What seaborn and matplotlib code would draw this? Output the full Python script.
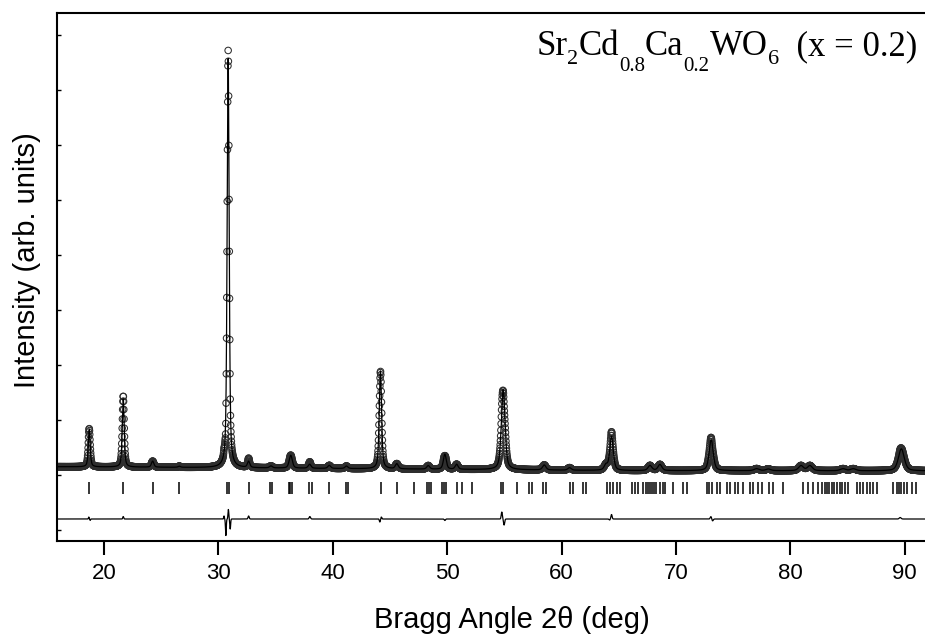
import numpy as np
import pandas as pd
import matplotlib
matplotlib.use("Agg")
import matplotlib.pyplot as plt
import seaborn as sns

# ---- scan definition (deg 2θ) ----
scan_start, scan_end, scan_step = 16.0, 92.0, 0.02

# ---- reflections: position (deg), net height (counts), FWHM (deg) ----
peak_pos = [18.72, 21.69, 24.26, 26.59, 30.86, 32.65, 34.60, 36.33, 37.98,
            39.70, 41.20, 44.17, 45.60, 48.35, 49.80, 50.83, 54.90, 58.49,
            60.70, 63.88, 64.37, 67.73, 68.60, 73.08, 77.05, 78.07, 80.93,
            81.71, 84.60, 85.50, 89.70]
peak_height = [680, 1250, 110, 20, 7440, 110, 36, 236, 73,
               55, 45, 1790, 91, 64, 273, 91, 1455, 91,
               45, 91, 618, 91, 110, 564, 36, 30, 91,
               91, 36, 36, 400]
peak_fwhm = [0.20, 0.20, 0.25, 0.25, 0.21, 0.25, 0.30, 0.32, 0.30,
             0.30, 0.30, 0.24, 0.30, 0.30, 0.30, 0.30, 0.38, 0.35,
             0.35, 0.35, 0.36, 0.40, 0.40, 0.42, 0.50, 0.50, 0.50,
             0.50, 0.55, 0.55, 0.60]
peak_eta = 0.5

# ---- background anchor points ----
bg_pos = [16.0, 25.0, 45.0, 65.0, 92.0]
bg_level = [150, 140, 110, 80, 75]

# ---- misfit features (obs - calc): position, amplitude (counts), width (deg) ----
resid_pos = [18.68, 18.80, 21.69, 30.50, 30.66, 30.88, 31.04, 32.65, 38.00,
             44.12, 44.25, 49.80, 54.78, 54.98, 64.20, 64.37, 73.06, 73.20, 89.60]
resid_amp = [36, -25, 45, 55, -300, 173, -182, 55, 45,
             -55, 36, -27, 127, -110, -18, 82, 45, -36, 27]
resid_width = [0.03, 0.03, 0.04, 0.03, 0.035, 0.035, 0.035, 0.05, 0.06,
               0.04, 0.04, 0.05, 0.05, 0.05, 0.05, 0.05, 0.06, 0.06, 0.08]

# ---- allowed Bragg reflection positions (deg) ----
bragg_pos = [18.72, 21.69, 24.26, 26.59, 30.72, 30.96, 32.65, 34.51, 34.66,
             36.22, 36.30, 36.46, 37.95, 38.15, 39.70, 41.15, 41.30, 44.21,
             45.61, 47.10, 48.21, 48.41, 48.58, 49.52, 49.69, 49.89, 50.83,
             51.32, 52.14, 54.68, 54.85, 56.07, 57.18, 57.38, 58.35, 58.64,
             60.73, 60.97, 61.90, 62.13, 63.94, 64.23, 64.52, 64.82, 65.11,
             66.13, 66.42, 66.71, 67.15, 67.40, 67.58, 67.75, 67.92, 68.10,
             68.30, 68.60, 68.84, 69.07, 69.77, 70.64, 70.93, 72.68, 72.91,
             73.12, 73.55, 73.85, 74.43, 74.72, 75.16, 75.45, 75.89, 76.47,
             76.76, 77.20, 77.49, 78.16, 78.51, 79.32, 81.07, 81.56, 82.00,
             82.44, 82.73, 83.02, 83.17, 83.40, 83.60, 83.80, 84.10, 84.30,
             84.48, 84.77, 85.06, 85.79, 86.08, 86.37, 86.66, 86.95, 87.24,
             87.54, 89.00, 89.30, 89.50, 89.70, 89.90, 90.20, 90.60, 91.00]

# ---- vertical placement of the lower panels (counts) ----
tick_low, tick_high = -350, -130
diff_offset = -800

# ---- sample label pieces: text, font size (pt), baseline drop (px) ----
label_pieces = [("Sr", 25, 0), ("2", 16, 9), ("Cd", 25, 0), ("0.8", 15, 16),
                ("Ca", 25, 0), ("0.2", 15, 16), ("WO", 25, 0), ("6", 16, 9),
                ("  (x = 0.2)", 25, 0)]

two_theta = np.arange(scan_start, scan_end + scan_step / 2, scan_step)


def pseudo_voigt(x, x0, fwhm, eta):
    hw = fwhm / 2.0
    lor = 1.0 / (1.0 + ((x - x0) / hw) ** 2)
    gau = np.exp(-np.log(2.0) * ((x - x0) / hw) ** 2)
    return eta * lor + (1.0 - eta) * gau


background = np.interp(two_theta, bg_pos, bg_level)
calc = background.copy()
for p, h, w in zip(peak_pos, peak_height, peak_fwhm):
    calc += h * pseudo_voigt(two_theta, p, w, peak_eta)

misfit = np.zeros_like(two_theta)
for p, a, w in zip(resid_pos, resid_amp, resid_width):
    misfit += a * np.exp(-0.5 * ((two_theta - p) / w) ** 2)

obs = calc + misfit
diff = obs - calc

df = pd.DataFrame({"two_theta": two_theta, "obs": obs, "calc": calc,
                   "diff": diff + diff_offset})

# ---- styling ----
sns.set_style("ticks")
plt.rcParams["font.family"] = ["Liberation Sans", "DejaVu Sans"]
for key in ["text.color", "axes.labelcolor", "xtick.color", "ytick.color",
            "axes.edgecolor"]:
    plt.rcParams[key] = "black"

W, H = 925, 635
fig = plt.figure(figsize=(W / 100, H / 100), dpi=100)
ax = fig.add_axes([57 / W, (H - 541) / H, 868 / W, 528 / H])

sns.scatterplot(data=df, x="two_theta", y="obs", ax=ax, marker="o", s=22,
                facecolors="none", edgecolor="#2e2e2e", linewidth=0.75,
                zorder=2, legend=False)
sns.lineplot(data=df, x="two_theta", y="calc", ax=ax, color="black",
             linewidth=0.9, sort=False, estimator=None, zorder=3)
sns.lineplot(data=df, x="two_theta", y="diff", ax=ax, color="black",
             linewidth=0.9, sort=False, estimator=None, zorder=3)
ax.vlines(bragg_pos, tick_low, tick_high, color="black", linewidth=1.1)

ax.set_xlim(15.9, 91.77)
ax.set_ylim(-1200, 8400)
ax.set_xticks([20, 30, 40, 50, 60, 70, 80, 90])
ax.set_yticks(np.arange(-1000, 8001, 1000))
ax.set_yticklabels([])
ax.set_xlabel("")
ax.set_ylabel("")

ax.tick_params(axis="y", direction="in", length=3, width=1.0, left=True,
               right=False)
ax.tick_params(axis="x", direction="out", length=10, width=1.5,
               labelsize=16, pad=6, bottom=True, top=False)
for side in ["left", "bottom", "top"]:
    ax.spines[side].set_linewidth(1.5)
ax.spines["right"].set_visible(False)

fig.text(512 / W, 1 - 628 / H, "Bragg Angle 2θ (deg)", ha="center",
         va="baseline", fontsize=21)
fig.text(27 / W, 1 - 260 / H, "Intensity (arb. units)", ha="center",
         va="center", rotation=90, fontsize=21)

# sample label, laid out piece by piece and right-aligned
renderer = fig.canvas.get_renderer()
pieces = []
for s, size, drop in label_pieces:
    t = fig.text(0, 0, s, fontsize=size, family="Liberation Serif",
                 ha="left", va="baseline")
    pieces.append((t, t.get_window_extent(renderer).width, drop))
x_px = 917 - sum(w for _, w, _ in pieces)
base_px = 55
for t, w, drop in pieces:
    t.set_position((x_px / W, 1 - (base_px + drop) / H))
    x_px += w

fig.savefig("out.png", dpi=100)
